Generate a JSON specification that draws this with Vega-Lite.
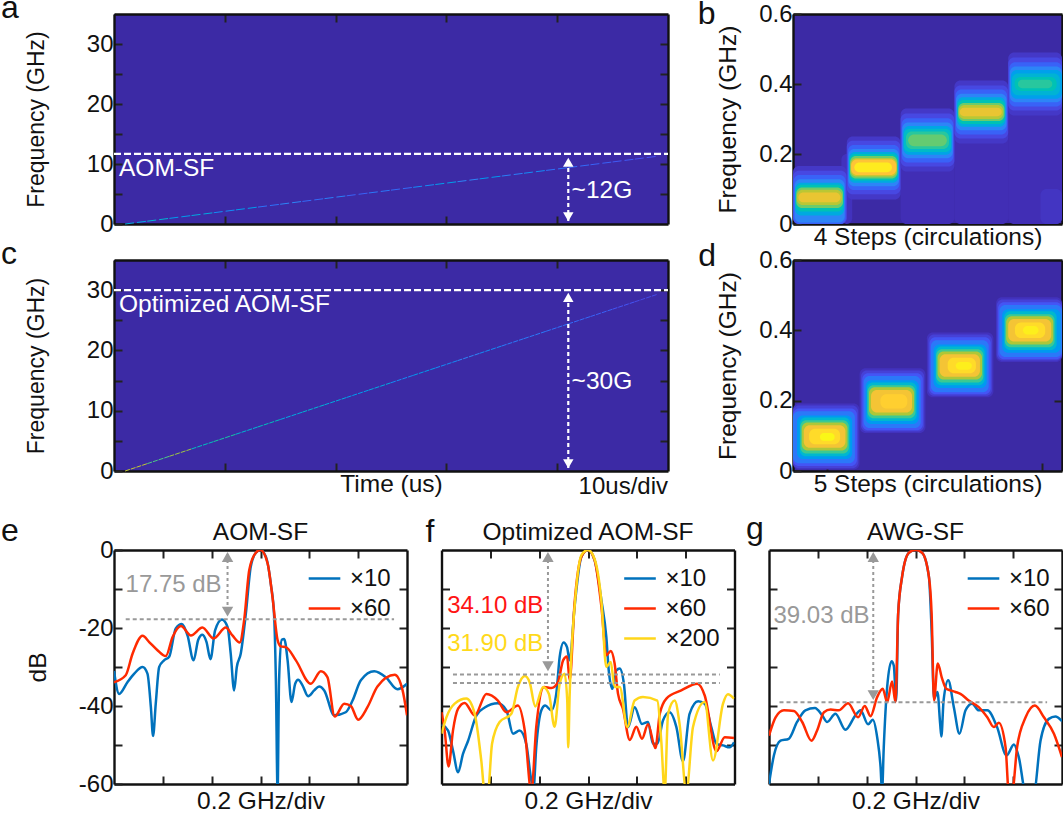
{
  "$schema": "https://vega.github.io/schema/vega-lite/v6.json",
  "padding": {"left": 0, "top": -8, "right": 0, "bottom": 0},
  "background": "white",
  "config": {
    "font": "Liberation Sans",
    "view": {"stroke": null},
    "axis": {"grid": false, "domainColor": "#111", "domainWidth": 2.4, "tickColor": "#222", "tickWidth": 2, "tickSize": -8, "labelFontSize": 24, "labelColor": "#111", "titleFontSize": 24.5, "titleFontWeight": "normal", "titleColor": "#111", "labelPadding": 9, "labelFlush": false, "labelOverlap": false, "zindex": 1}
  },
  "resolve": {"scale": {"color": "independent"}, "legend": {"color": "independent"}},
  "vconcat": [
    {"resolve": {"scale": {"color": "independent"}, "legend": {"color": "independent"}},
     "vconcat": [
      {"hconcat": [
        {"width": 554, "height": 210, "view": {"fill": "#3C2AA5", "stroke": null},
         "data": {"values": [{}]},
         "resolve": {"axis": {"x": "independent", "y": "independent"}},
         "layer": [
          {"mark": {"type": "rule", "opacity": 0}, "encoding": {
            "x": {"datum": 0, "type": "quantitative", "scale": {"domain": [0, 50]}, "axis": {"values": [10, 20, 30, 40], "labels": false, "title": null}},
            "y": {"datum": 0, "type": "quantitative", "scale": {"domain": [0, 35]}, "axis": {"values": [0, 5, 10, 15, 20, 25, 30], "labelExpr": "datum.value % 10 == 0 ? datum.label : ''", "title": "Frequency (GHz)", "titleFontSize": 23, "titlePadding": 38}}}},
          {"mark": {"type": "rule", "opacity": 0}, "encoding": {
            "x": {"datum": 0, "type": "quantitative", "axis": {"orient": "top", "values": [10, 20, 30, 40], "labels": false, "title": null}},
            "y": {"datum": 0, "type": "quantitative", "axis": {"orient": "right", "values": [5, 10, 15, 20, 25, 30], "labels": false, "title": null}}}},
          {"data": {"values": [
            {"t0":1,"t1":3,"f0":0,"f1":0.47,"v":0.4},{"t0":3,"t1":5,"f0":0.47,"f1":0.94,"v":0.45},{"t0":5,"t1":7,"f0":0.94,"f1":1.41,"v":0.35},{"t0":7,"t1":9,"f0":1.41,"f1":1.88,"v":0.4},{"t0":9,"t1":11,"f0":1.88,"f1":2.35,"v":0.3},{"t0":11,"t1":13,"f0":2.35,"f1":2.82,"v":0.35},{"t0":13,"t1":15,"f0":2.82,"f1":3.29,"v":0.22},{"t0":15,"t1":17,"f0":3.29,"f1":3.76,"v":0.28},{"t0":17,"t1":19,"f0":3.76,"f1":4.23,"v":0.2},{"t0":19,"t1":21,"f0":4.23,"f1":4.7,"v":0.26},{"t0":21,"t1":23,"f0":4.7,"f1":5.17,"v":0.18},{"t0":23,"t1":25,"f0":5.17,"f1":5.64,"v":0.24},{"t0":25,"t1":27,"f0":5.64,"f1":6.11,"v":0.2},{"t0":27,"t1":29,"f0":6.11,"f1":6.58,"v":0.3},{"t0":29,"t1":31,"f0":6.58,"f1":7.05,"v":0.36},{"t0":31,"t1":33,"f0":7.05,"f1":7.52,"v":0.28},{"t0":33,"t1":35,"f0":7.52,"f1":7.99,"v":0.34},{"t0":35,"t1":37,"f0":7.99,"f1":8.46,"v":0.26},{"t0":37,"t1":39,"f0":8.46,"f1":8.93,"v":0.3},{"t0":39,"t1":41,"f0":8.93,"f1":9.4,"v":0.22},{"t0":41,"t1":43,"f0":9.4,"f1":9.87,"v":0.2},{"t0":43,"t1":45,"f0":9.87,"f1":10.34,"v":0.18},{"t0":45,"t1":47,"f0":10.34,"f1":10.81,"v":0.16},{"t0":47,"t1":49,"f0":10.81,"f1":11.28,"v":0.14}
           ]},
           "mark": {"type": "rule", "strokeWidth": 1, "strokeDash": [9, 3]},
           "encoding": {
            "x": {"field": "t0", "type": "quantitative", "axis": null}, "x2": {"field": "t1"},
            "y": {"field": "f0", "type": "quantitative", "axis": null}, "y2": {"field": "f1"},
            "color": {"field": "v", "type": "quantitative", "legend": null, "scale": {"domain": [0, 0.143, 0.286, 0.429, 0.571, 0.714, 0.857, 1], "range": ["#3E26A8", "#4752F4", "#2E87F7", "#12B1D6", "#37C897", "#ABC739", "#FEC338", "#F9FB15"]}}}},
          {"mark": {"type": "rule", "color": "white", "strokeWidth": 2.2, "strokeDash": [7, 3]}, "encoding": {
            "x": {"datum": 0, "axis": null}, "x2": {"datum": 50}, "y": {"datum": 11.7, "axis": null}}},
          {"mark": {"type": "rule", "color": "white", "strokeWidth": 2.2, "strokeDash": [4, 3]}, "encoding": {
            "x": {"datum": 41, "axis": null}, "y": {"datum": 0.5, "axis": null}, "y2": {"datum": 11}}},
          {"mark": {"type": "point", "shape": "triangle-up", "filled": true, "color": "white", "size": 110, "opacity": 1}, "encoding": {
            "x": {"datum": 41, "axis": null}, "y": {"datum": 10.3, "axis": null}}},
          {"mark": {"type": "point", "shape": "triangle-down", "filled": true, "color": "white", "size": 110, "opacity": 1}, "encoding": {
            "x": {"datum": 41, "axis": null}, "y": {"datum": 1.2, "axis": null}}},
          {"mark": {"type": "text", "color": "white", "fontSize": 24.5, "align": "left", "baseline": "middle"}, "encoding": {
            "x": {"datum": 0.45, "axis": null}, "y": {"datum": 9.1, "axis": null}, "text": {"value": "AOM-SF"}}},
          {"mark": {"type": "text", "color": "white", "fontSize": 24.5, "align": "left", "baseline": "middle"}, "encoding": {
            "x": {"datum": 41.3, "axis": null}, "y": {"datum": 5.5, "axis": null}, "text": {"value": "~12G"}}},
          {"mark": {"type": "text", "color": "#111", "fontSize": 32, "align": "left", "baseline": "alphabetic"}, "encoding": {
            "x": {"datum": -10.2, "axis": null}, "y": {"datum": 34.3, "axis": null}, "text": {"value": "a"}}}
        ]},
        {"width": 269, "height": 210, "view": {"fill": "#3C2AA5", "stroke": null},
         "data": {"values": [{}]},
         "resolve": {"axis": {"x": "independent", "y": "independent"}},
         "layer": [
          {"mark": {"type": "rule", "opacity": 0}, "encoding": {
            "x": {"datum": 0, "type": "quantitative", "scale": {"domain": [0, 5]}, "axis": {"values": [], "ticks": false, "labels": false, "title": "4 Steps (circulations)", "titlePadding": 1}},
            "y": {"datum": 0, "type": "quantitative", "scale": {"domain": [0, 0.6]}, "axis": {"values": [0, 0.2, 0.4, 0.6], "labelExpr": "datum.value == 0 ? '0' : format(datum.value, '.1f')", "title": "Frequency (GHz)", "titlePadding": 18}}}},
          {"mark": {"type": "rule", "opacity": 0}, "encoding": {
            "x": {"datum": 0, "type": "quantitative", "axis": {"orient": "top", "values": [], "ticks": false, "labels": false, "title": null}},
            "y": {"datum": 0, "type": "quantitative", "axis": {"orient": "right", "values": [0.2, 0.4], "labels": false, "title": null}}}},
          {"data": {"values": [
            {"x0":2,"x1":3,"y0":0,"y1":0.2,"v":0.025},{"x0":3,"x1":4,"y0":0,"y1":0.26,"v":0.025},{"x0":4,"x1":5,"y0":0,"y1":0.34,"v":0.025},{"x0":0.9,"x1":1.1,"y0":0,"y1":0.2,"v":0.04},{"x0":4.6,"x1":5,"y0":0,"y1":0.1,"v":0.05},
            {"x0":0,"x1":1,"y0":0,"y1":0.166,"v":0.06},{"x0":0,"x1":1,"y0":0,"y1":0.152,"v":0.11},{"x0":0.01,"x1":0.98,"y0":0,"y1":0.14,"v":0.18},{"x0":0.03,"x1":0.96,"y0":0.004,"y1":0.128,"v":0.28},{"x0":0.04,"x1":0.95,"y0":0.024,"y1":0.118,"v":0.4},{"x0":0.05,"x1":0.94,"y0":0.036,"y1":0.112,"v":0.52},{"x0":0.06,"x1":0.93,"y0":0.046,"y1":0.104,"v":0.64},{"x0":0.07,"x1":0.91,"y0":0.054,"y1":0.098,"v":0.74},{"x0":0.1,"x1":0.88,"y0":0.062,"y1":0.09,"v":0.82},
            {"x0":1,"x1":2,"y0":0.07,"y1":0.25,"v":0.06},{"x0":1,"x1":2,"y0":0.085,"y1":0.238,"v":0.11},{"x0":1.02,"x1":1.98,"y0":0.097,"y1":0.226,"v":0.18},{"x0":1.03,"x1":1.97,"y0":0.108,"y1":0.214,"v":0.28},{"x0":1.04,"x1":1.96,"y0":0.118,"y1":0.206,"v":0.4},{"x0":1.05,"x1":1.95,"y0":0.124,"y1":0.2,"v":0.52},{"x0":1.06,"x1":1.94,"y0":0.13,"y1":0.194,"v":0.64},{"x0":1.07,"x1":1.93,"y0":0.136,"y1":0.188,"v":0.76},{"x0":1.08,"x1":1.92,"y0":0.14,"y1":0.184,"v":0.86},{"x0":1.14,"x1":1.84,"y0":0.148,"y1":0.176,"v":0.96},
            {"x0":2,"x1":3,"y0":0.15,"y1":0.33,"v":0.06},{"x0":2,"x1":3,"y0":0.164,"y1":0.316,"v":0.11},{"x0":2.02,"x1":2.98,"y0":0.176,"y1":0.302,"v":0.18},{"x0":2.03,"x1":2.97,"y0":0.188,"y1":0.29,"v":0.28},{"x0":2.05,"x1":2.95,"y0":0.198,"y1":0.28,"v":0.38},{"x0":2.06,"x1":2.94,"y0":0.206,"y1":0.272,"v":0.48},{"x0":2.1,"x1":2.9,"y0":0.214,"y1":0.264,"v":0.56},{"x0":2.14,"x1":2.86,"y0":0.222,"y1":0.256,"v":0.63},
            {"x0":3,"x1":4,"y0":0.23,"y1":0.41,"v":0.06},{"x0":3,"x1":4,"y0":0.244,"y1":0.396,"v":0.11},{"x0":3.02,"x1":3.98,"y0":0.256,"y1":0.384,"v":0.18},{"x0":3.03,"x1":3.97,"y0":0.268,"y1":0.372,"v":0.28},{"x0":3.05,"x1":3.95,"y0":0.278,"y1":0.362,"v":0.4},{"x0":3.06,"x1":3.94,"y0":0.286,"y1":0.354,"v":0.52},{"x0":3.07,"x1":3.93,"y0":0.294,"y1":0.346,"v":0.64},{"x0":3.08,"x1":3.91,"y0":0.3,"y1":0.34,"v":0.74},{"x0":3.1,"x1":3.88,"y0":0.308,"y1":0.332,"v":0.82},
            {"x0":4,"x1":5,"y0":0.31,"y1":0.49,"v":0.06},{"x0":4,"x1":5,"y0":0.324,"y1":0.476,"v":0.11},{"x0":4.02,"x1":5,"y0":0.336,"y1":0.462,"v":0.18},{"x0":4.03,"x1":5,"y0":0.348,"y1":0.45,"v":0.28},{"x0":4.05,"x1":5,"y0":0.358,"y1":0.44,"v":0.36},{"x0":4.07,"x1":4.96,"y0":0.368,"y1":0.43,"v":0.44},{"x0":4.12,"x1":4.9,"y0":0.38,"y1":0.42,"v":0.52},{"x0":4.18,"x1":4.82,"y0":0.388,"y1":0.412,"v":0.56}
           ]},
           "mark": {"type": "rect", "clip": true, "cornerRadius": 6},
           "encoding": {
            "x": {"field": "x0", "type": "quantitative", "axis": null}, "x2": {"field": "x1"},
            "y": {"field": "y0", "type": "quantitative", "axis": null}, "y2": {"field": "y1"},
            "color": {"field": "v", "type": "quantitative", "legend": null, "scale": {"domain": [0, 0.143, 0.286, 0.429, 0.571, 0.714, 0.857, 1], "range": ["#3E26A8", "#4752F4", "#2E87F7", "#12B1D6", "#37C897", "#ABC739", "#FEC338", "#F9FB15"]}}}},
          {"mark": {"type": "text", "color": "#111", "fontSize": 32, "align": "left", "baseline": "alphabetic"}, "encoding": {
            "x": {"datum": -1.77, "axis": null}, "y": {"datum": 0.571, "axis": null}, "text": {"value": "b"}}}
        ]}
      ], "spacing": 125, "bounds": "flush", "resolve": {"scale": {"color": "independent"}, "legend": {"color": "independent"}}},
      {"hconcat": [
        {"width": 554, "height": 211, "view": {"fill": "#3C2AA5", "stroke": null},
         "data": {"values": [{}]},
         "resolve": {"axis": {"x": "independent", "y": "independent"}},
         "layer": [
          {"mark": {"type": "rule", "opacity": 0}, "encoding": {
            "x": {"datum": 0, "type": "quantitative", "scale": {"domain": [0, 50]}, "axis": {"values": [10, 20, 30, 40], "labels": false, "title": "Time (us)", "titlePadding": 0}},
            "y": {"datum": 0, "type": "quantitative", "scale": {"domain": [0, 35]}, "axis": {"values": [0, 5, 10, 15, 20, 25, 30], "labelExpr": "datum.value % 10 == 0 ? datum.label : ''", "title": "Frequency (GHz)", "titleFontSize": 23, "titlePadding": 38}}}},
          {"mark": {"type": "rule", "opacity": 0}, "encoding": {
            "x": {"datum": 0, "type": "quantitative", "axis": {"orient": "top", "values": [10, 20, 30, 40], "labels": false, "title": null}},
            "y": {"datum": 0, "type": "quantitative", "axis": {"orient": "right", "values": [5, 10, 15, 20, 25, 30], "labels": false, "title": null}}}},
          {"data": {"values": [
            {"t0":1,"t1":3,"f0":0,"f1":1.22,"v":0.75},{"t0":3,"t1":5,"f0":1.22,"f1":2.44,"v":0.6},{"t0":5,"t1":7,"f0":2.44,"f1":3.66,"v":0.7},{"t0":7,"t1":9,"f0":3.66,"f1":4.88,"v":0.5},{"t0":9,"t1":11,"f0":4.88,"f1":6.1,"v":0.55},{"t0":11,"t1":13,"f0":6.1,"f1":7.32,"v":0.45},{"t0":13,"t1":15,"f0":7.32,"f1":8.54,"v":0.5},{"t0":15,"t1":17,"f0":8.54,"f1":9.76,"v":0.4},{"t0":17,"t1":19,"f0":9.76,"f1":10.98,"v":0.45},{"t0":19,"t1":21,"f0":10.98,"f1":12.2,"v":0.4},{"t0":21,"t1":23,"f0":12.2,"f1":13.42,"v":0.35},{"t0":23,"t1":25,"f0":13.42,"f1":14.64,"v":0.4},{"t0":25,"t1":27,"f0":14.64,"f1":15.86,"v":0.3},{"t0":27,"t1":29,"f0":15.86,"f1":17.08,"v":0.35},{"t0":29,"t1":31,"f0":17.08,"f1":18.3,"v":0.3},{"t0":31,"t1":33,"f0":18.3,"f1":19.52,"v":0.28},{"t0":33,"t1":35,"f0":19.52,"f1":20.74,"v":0.3},{"t0":35,"t1":37,"f0":20.74,"f1":21.96,"v":0.25},{"t0":37,"t1":39,"f0":21.96,"f1":23.18,"v":0.25},{"t0":39,"t1":41,"f0":23.18,"f1":24.4,"v":0.22},{"t0":41,"t1":43,"f0":24.4,"f1":25.62,"v":0.2},{"t0":43,"t1":45,"f0":25.62,"f1":26.84,"v":0.18},{"t0":45,"t1":47,"f0":26.84,"f1":28.06,"v":0.15},{"t0":47,"t1":49,"f0":28.06,"f1":29.28,"v":0.12}
           ]},
           "mark": {"type": "rule", "strokeWidth": 1, "strokeDash": [5, 1]},
           "encoding": {
            "x": {"field": "t0", "type": "quantitative", "axis": null}, "x2": {"field": "t1"},
            "y": {"field": "f0", "type": "quantitative", "axis": null}, "y2": {"field": "f1"},
            "color": {"field": "v", "type": "quantitative", "legend": null, "scale": {"domain": [0, 0.143, 0.286, 0.429, 0.571, 0.714, 0.857, 1], "range": ["#3E26A8", "#4752F4", "#2E87F7", "#12B1D6", "#37C897", "#ABC739", "#FEC338", "#F9FB15"]}}}},
          {"mark": {"type": "rule", "color": "white", "strokeWidth": 2.2, "strokeDash": [7, 3]}, "encoding": {
            "x": {"datum": 0, "axis": null}, "x2": {"datum": 50}, "y": {"datum": 30, "axis": null}}},
          {"mark": {"type": "rule", "color": "white", "strokeWidth": 2.2, "strokeDash": [4, 3]}, "encoding": {
            "x": {"datum": 41, "axis": null}, "y": {"datum": 0.5, "axis": null}, "y2": {"datum": 29.5}}},
          {"mark": {"type": "point", "shape": "triangle-up", "filled": true, "color": "white", "size": 110, "opacity": 1}, "encoding": {
            "x": {"datum": 41, "axis": null}, "y": {"datum": 28.8, "axis": null}}},
          {"mark": {"type": "point", "shape": "triangle-down", "filled": true, "color": "white", "size": 110, "opacity": 1}, "encoding": {
            "x": {"datum": 41, "axis": null}, "y": {"datum": 1.2, "axis": null}}},
          {"mark": {"type": "text", "color": "white", "fontSize": 24.5, "align": "left", "baseline": "middle"}, "encoding": {
            "x": {"datum": 0.45, "axis": null}, "y": {"datum": 27.5, "axis": null}, "text": {"value": "Optimized AOM-SF"}}},
          {"mark": {"type": "text", "color": "white", "fontSize": 24.5, "align": "left", "baseline": "middle"}, "encoding": {
            "x": {"datum": 41.3, "axis": null}, "y": {"datum": 14.8, "axis": null}, "text": {"value": "~30G"}}},
          {"mark": {"type": "text", "color": "#111", "fontSize": 24, "align": "right", "baseline": "middle"}, "encoding": {
            "x": {"datum": 50, "axis": null}, "y": {"datum": -2.6, "axis": null}, "text": {"value": "10us/div"}}},
          {"mark": {"type": "text", "color": "#111", "fontSize": 32, "align": "left", "baseline": "alphabetic"}, "encoding": {
            "x": {"datum": -10.2, "axis": null}, "y": {"datum": 34.3, "axis": null}, "text": {"value": "c"}}}
        ]},
        {"width": 269, "height": 211, "view": {"fill": "#3C2AA5", "stroke": null},
         "data": {"values": [{}]},
         "resolve": {"axis": {"x": "independent", "y": "independent"}},
         "layer": [
          {"mark": {"type": "rule", "opacity": 0}, "encoding": {
            "x": {"datum": 0, "type": "quantitative", "scale": {"domain": [0, 4]}, "axis": {"values": [0.5, 3.7], "labels": false, "title": "5 Steps (circulations)", "titlePadding": 0}},
            "y": {"datum": 0, "type": "quantitative", "scale": {"domain": [0, 0.6]}, "axis": {"values": [0, 0.2, 0.4, 0.6], "labelExpr": "datum.value == 0 ? '0' : format(datum.value, '.1f')", "title": "Frequency (GHz)", "titlePadding": 18}}}},
          {"mark": {"type": "rule", "opacity": 0}, "encoding": {
            "x": {"datum": 0, "type": "quantitative", "axis": {"orient": "top", "values": [], "ticks": false, "labels": false, "title": null}},
            "y": {"datum": 0, "type": "quantitative", "axis": {"orient": "right", "values": [0.2, 0.4], "labels": false, "title": null}}}},
          {"data": {"values": [
            {"x0":0,"x1":0.99,"y0":0.004,"y1":0.192,"v":0.04},{"x0":0,"x1":0.97,"y0":0.008,"y1":0.186,"v":0.09},{"x0":0,"x1":0.95,"y0":0.014,"y1":0.178,"v":0.15},{"x0":0,"x1":0.92,"y0":0.022,"y1":0.17,"v":0.24},{"x0":0.06,"x1":0.88,"y0":0.034,"y1":0.158,"v":0.34},{"x0":0.1,"x1":0.85,"y0":0.042,"y1":0.152,"v":0.46},{"x0":0.11,"x1":0.83,"y0":0.05,"y1":0.144,"v":0.58},{"x0":0.13,"x1":0.81,"y0":0.058,"y1":0.138,"v":0.72},{"x0":0.16,"x1":0.78,"y0":0.066,"y1":0.13,"v":0.84},{"x0":0.24,"x1":0.7,"y0":0.076,"y1":0.12,"v":0.92},{"x0":0.4,"x1":0.62,"y0":0.086,"y1":0.108,"v":0.99},
            {"x0":0.99,"x1":1.97,"y0":0.108,"y1":0.292,"v":0.04},{"x0":1.01,"x1":1.95,"y0":0.112,"y1":0.286,"v":0.09},{"x0":1.03,"x1":1.93,"y0":0.116,"y1":0.278,"v":0.15},{"x0":1.05,"x1":1.9,"y0":0.122,"y1":0.27,"v":0.24},{"x0":1.08,"x1":1.87,"y0":0.134,"y1":0.258,"v":0.34},{"x0":1.1,"x1":1.84,"y0":0.142,"y1":0.252,"v":0.46},{"x0":1.11,"x1":1.82,"y0":0.15,"y1":0.244,"v":0.58},{"x0":1.13,"x1":1.8,"y0":0.158,"y1":0.238,"v":0.72},{"x0":1.16,"x1":1.77,"y0":0.166,"y1":0.23,"v":0.84},{"x0":1.3,"x1":1.7,"y0":0.178,"y1":0.218,"v":0.89},
            {"x0":1.99,"x1":2.98,"y0":0.21,"y1":0.394,"v":0.04},{"x0":2.01,"x1":2.96,"y0":0.214,"y1":0.388,"v":0.09},{"x0":2.03,"x1":2.94,"y0":0.218,"y1":0.38,"v":0.15},{"x0":2.05,"x1":2.91,"y0":0.224,"y1":0.372,"v":0.24},{"x0":2.09,"x1":2.88,"y0":0.236,"y1":0.36,"v":0.34},{"x0":2.12,"x1":2.85,"y0":0.244,"y1":0.354,"v":0.46},{"x0":2.13,"x1":2.83,"y0":0.252,"y1":0.346,"v":0.58},{"x0":2.15,"x1":2.81,"y0":0.26,"y1":0.34,"v":0.72},{"x0":2.18,"x1":2.78,"y0":0.268,"y1":0.332,"v":0.84},{"x0":2.3,"x1":2.72,"y0":0.278,"y1":0.322,"v":0.92},{"x0":2.42,"x1":2.66,"y0":0.288,"y1":0.31,"v":0.97},
            {"x0":3.02,"x1":4,"y0":0.31,"y1":0.494,"v":0.04},{"x0":3.03,"x1":4,"y0":0.314,"y1":0.488,"v":0.09},{"x0":3.05,"x1":4,"y0":0.318,"y1":0.48,"v":0.15},{"x0":3.07,"x1":4,"y0":0.324,"y1":0.472,"v":0.24},{"x0":3.11,"x1":3.98,"y0":0.336,"y1":0.46,"v":0.34},{"x0":3.14,"x1":3.92,"y0":0.344,"y1":0.454,"v":0.46},{"x0":3.15,"x1":3.89,"y0":0.352,"y1":0.446,"v":0.58},{"x0":3.17,"x1":3.87,"y0":0.36,"y1":0.44,"v":0.72},{"x0":3.2,"x1":3.84,"y0":0.368,"y1":0.432,"v":0.84},{"x0":3.3,"x1":3.75,"y0":0.378,"y1":0.422,"v":0.92},{"x0":3.42,"x1":3.65,"y0":0.388,"y1":0.412,"v":0.97}
           ]},
           "mark": {"type": "rect", "clip": true, "cornerRadius": 6},
           "encoding": {
            "x": {"field": "x0", "type": "quantitative", "axis": null}, "x2": {"field": "x1"},
            "y": {"field": "y0", "type": "quantitative", "axis": null}, "y2": {"field": "y1"},
            "color": {"field": "v", "type": "quantitative", "legend": null, "scale": {"domain": [0, 0.143, 0.286, 0.429, 0.571, 0.714, 0.857, 1], "range": ["#3E26A8", "#4752F4", "#2E87F7", "#12B1D6", "#37C897", "#ABC739", "#FEC338", "#F9FB15"]}}}},
          {"mark": {"type": "text", "color": "#111", "fontSize": 32, "align": "left", "baseline": "alphabetic"}, "encoding": {
            "x": {"datum": -1.41, "axis": null}, "y": {"datum": 0.583, "axis": null}, "text": {"value": "d"}}}
        ]}
      ], "spacing": 125, "bounds": "flush", "resolve": {"scale": {"color": "independent"}, "legend": {"color": "independent"}}}
    ], "spacing": -11},
    {"hconcat": [
      {"width": 293, "height": 234,
       "data": {"values": [{}]},
       "resolve": {"axis": {"x": "independent", "y": "independent"}},
       "layer": [
        {"mark": {"type": "rule", "opacity": 0}, "encoding": {
          "x": {"datum": 0, "type": "quantitative", "scale": {"domain": [-0.6, 0.6]}, "axis": {"values": [-0.4, -0.2, 0, 0.2, 0.4], "labels": false, "title": "0.2 GHz/div", "titlePadding": 4}},
          "y": {"datum": 0, "type": "quantitative", "scale": {"domain": [-60, 0]}, "axis": {"values": [-60, -50, -40, -30, -20, -10, 0], "labelExpr": "datum.value % 20 == 0 ? '' + datum.value : ''", "title": "dB", "titlePadding": 28}}}},
        {"mark": {"type": "rule", "opacity": 0}, "encoding": {
          "x": {"datum": 0, "type": "quantitative", "axis": {"orient": "top", "values": [-0.4, -0.2, 0, 0.2, 0.4], "labels": false, "title": null}},
          "y": {"datum": 0, "type": "quantitative", "axis": {"orient": "right", "values": [-50, -40, -30, -20, -10], "labels": false, "title": null}}}},
        {"data": {"values": [
          {"x":-0.6,"y":-31,"s":"×10"},{"x":-0.579,"y":-36.9,"s":"×10"},{"x":-0.545,"y":-33.9,"s":"×10"},{"x":-0.517,"y":-31.7,"s":"×10"},{"x":-0.483,"y":-30,"s":"×10"},{"x":-0.463,"y":-31.7,"s":"×10"},{"x":-0.449,"y":-40.3,"s":"×10"},{"x":-0.44,"y":-47.7,"s":"×10"},{"x":-0.429,"y":-39.4,"s":"×10"},{"x":-0.415,"y":-30,"s":"×10"},{"x":-0.395,"y":-28.3,"s":"×10"},{"x":-0.374,"y":-27.4,"s":"×10"},{"x":-0.347,"y":-20.1,"s":"×10"},{"x":-0.322,"y":-19,"s":"×10"},{"x":-0.299,"y":-21.9,"s":"×10"},{"x":-0.274,"y":-28.3,"s":"×10"},{"x":-0.255,"y":-23,"s":"×10"},{"x":-0.238,"y":-21.7,"s":"×10"},{"x":-0.221,"y":-23.6,"s":"×10"},{"x":-0.205,"y":-28,"s":"×10"},{"x":-0.186,"y":-20.6,"s":"×10"},{"x":-0.158,"y":-17.8,"s":"×10"},{"x":-0.135,"y":-19.7,"s":"×10"},{"x":-0.122,"y":-26.6,"s":"×10"},{"x":-0.108,"y":-36,"s":"×10"},{"x":-0.097,"y":-30,"s":"×10"},{"x":-0.081,"y":-26.6,"s":"×10"},{"x":-0.06,"y":-16.3,"s":"×10"},{"x":-0.04,"y":-4.3,"s":"×10"},{"x":-0.019,"y":-0.7,"s":"×10"},{"x":0,"y":0,"s":"×10"},{"x":0.022,"y":-1.7,"s":"×10"},{"x":0.042,"y":-8.6,"s":"×10"},{"x":0.056,"y":-17.1,"s":"×10"},{"x":0.063,"y":-33.4,"s":"×10"},{"x":0.07,"y":-62,"s":"×10"},{"x":0.076,"y":-33.4,"s":"×10"},{"x":0.087,"y":-23,"s":"×10"},{"x":0.097,"y":-22.8,"s":"×10"},{"x":0.111,"y":-28.3,"s":"×10"},{"x":0.127,"y":-39,"s":"×10"},{"x":0.142,"y":-34.3,"s":"×10"},{"x":0.154,"y":-33.3,"s":"×10"},{"x":0.172,"y":-34.7,"s":"×10"},{"x":0.195,"y":-37.5,"s":"×10"},{"x":0.22,"y":-36,"s":"×10"},{"x":0.24,"y":-35,"s":"×10"},{"x":0.261,"y":-36,"s":"×10"},{"x":0.302,"y":-42.4,"s":"×10"},{"x":0.349,"y":-41.6,"s":"×10"},{"x":0.377,"y":-38.6,"s":"×10"},{"x":0.411,"y":-33.4,"s":"×10"},{"x":0.466,"y":-31.1,"s":"×10"},{"x":0.513,"y":-32.6,"s":"×10"},{"x":0.561,"y":-35.7,"s":"×10"},{"x":0.6,"y":-34.3,"s":"×10"},
          {"x":-0.6,"y":-33.9,"s":"×60"},{"x":-0.552,"y":-32.1,"s":"×60"},{"x":-0.524,"y":-26.6,"s":"×60"},{"x":-0.483,"y":-22,"s":"×60"},{"x":-0.456,"y":-23.6,"s":"×60"},{"x":-0.422,"y":-25.7,"s":"×60"},{"x":-0.388,"y":-27.2,"s":"×60"},{"x":-0.36,"y":-22.3,"s":"×60"},{"x":-0.326,"y":-19.5,"s":"×60"},{"x":-0.285,"y":-21.9,"s":"×60"},{"x":-0.238,"y":-19.9,"s":"×60"},{"x":-0.192,"y":-22.7,"s":"×60"},{"x":-0.142,"y":-19.9,"s":"×60"},{"x":-0.115,"y":-21.9,"s":"×60"},{"x":-0.085,"y":-23.7,"s":"×60"},{"x":-0.067,"y":-18,"s":"×60"},{"x":-0.046,"y":-5.1,"s":"×60"},{"x":-0.019,"y":-0.7,"s":"×60"},{"x":0,"y":0,"s":"×60"},{"x":0.029,"y":-3.4,"s":"×60"},{"x":0.049,"y":-12,"s":"×60"},{"x":0.07,"y":-23.1,"s":"×60"},{"x":0.083,"y":-24.7,"s":"×60"},{"x":0.104,"y":-24.9,"s":"×60"},{"x":0.145,"y":-28.3,"s":"×60"},{"x":0.206,"y":-34.3,"s":"×60"},{"x":0.247,"y":-31.1,"s":"×60"},{"x":0.274,"y":-32.6,"s":"×60"},{"x":0.304,"y":-42.7,"s":"×60"},{"x":0.343,"y":-39.4,"s":"×60"},{"x":0.37,"y":-40,"s":"×60"},{"x":0.4,"y":-43.5,"s":"×60"},{"x":0.438,"y":-40.3,"s":"×60"},{"x":0.479,"y":-35,"s":"×60"},{"x":0.55,"y":-32,"s":"×60"},{"x":0.582,"y":-36,"s":"×60"},{"x":0.6,"y":-42.4,"s":"×60"}
         ]},
         "mark": {"type": "line", "interpolate": "monotone", "clip": true, "strokeWidth": 2.5},
         "encoding": {
          "x": {"field": "x", "type": "quantitative", "axis": null},
          "y": {"field": "y", "type": "quantitative", "axis": null},
          "color": {"field": "s", "type": "nominal", "scale": {"domain": ["×10", "×60"], "range": ["#0072BD", "#FF2A00"]}, "legend": {"orient": "none", "legendX": 193, "legendY": 11, "title": null, "symbolType": "stroke", "symbolSize": 1000, "symbolStrokeWidth": 2.5, "labelFontSize": 24, "labelColor": "#111", "labelOffset": 8, "rowPadding": -5}}}},
        {"mark": {"type": "rule", "color": "#999", "strokeWidth": 2, "strokeDash": [4, 3]}, "encoding": {
          "x": {"datum": -0.552, "axis": null}, "x2": {"datum": 0.547}, "y": {"datum": -17.75, "axis": null}}},
        {"mark": {"type": "rule", "color": "#999", "strokeWidth": 2, "strokeDash": [3, 3]}, "encoding": {
          "x": {"datum": -0.135, "axis": null}, "y": {"datum": -1, "axis": null}, "y2": {"datum": -16}}},
        {"mark": {"type": "point", "shape": "triangle-up", "filled": true, "color": "#999", "size": 130, "opacity": 1}, "encoding": {
          "x": {"datum": -0.135, "axis": null}, "y": {"datum": -1.8, "axis": null}}},
        {"mark": {"type": "point", "shape": "triangle-down", "filled": true, "color": "#999", "size": 130, "opacity": 1}, "encoding": {
          "x": {"datum": -0.135, "axis": null}, "y": {"datum": -15.8, "axis": null}}},
        {"mark": {"type": "text", "color": "#999", "fontSize": 24}, "encoding": {
          "x": {"datum": -0.356, "axis": null}, "y": {"datum": -9, "axis": null}, "text": {"value": "17.75 dB"}}},
        {"mark": {"type": "text", "color": "#111", "fontSize": 24.5}, "encoding": {
          "x": {"datum": 0, "axis": null}, "y": {"datum": 4.3, "axis": null}, "text": {"value": "AOM-SF"}}},
        {"mark": {"type": "text", "color": "#111", "fontSize": 32, "align": "left", "baseline": "alphabetic"}, "encoding": {
          "x": {"datum": -1.063, "axis": null}, "y": {"datum": 2.3, "axis": null}, "text": {"value": "e"}}}
      ]},
      {"width": 293, "height": 234,
       "data": {"values": [{}]},
       "resolve": {"axis": {"x": "independent", "y": "independent"}},
       "layer": [
        {"mark": {"type": "rule", "opacity": 0}, "encoding": {
          "x": {"datum": 0, "type": "quantitative", "scale": {"domain": [-0.6, 0.6]}, "axis": {"values": [-0.4, -0.2, 0, 0.2, 0.4], "labels": false, "title": "0.2 GHz/div", "titlePadding": 4}},
          "y": {"datum": 0, "type": "quantitative", "scale": {"domain": [-60, 0]}, "axis": {"values": [-50, -40, -30, -20, -10], "labels": false, "title": null}}}},
        {"mark": {"type": "rule", "opacity": 0}, "encoding": {
          "x": {"datum": 0, "type": "quantitative", "axis": {"orient": "top", "values": [-0.4, -0.2, 0, 0.2, 0.4], "labels": false, "title": null}},
          "y": {"datum": 0, "type": "quantitative", "axis": {"orient": "right", "values": [-50, -40, -30, -20, -10], "labels": false, "title": null}}}},
        {"data": {"values": [
          {"x":-0.6,"y":-44.7,"s":"×10"},{"x":-0.573,"y":-46.3,"s":"×10"},{"x":-0.553,"y":-51.4,"s":"×10"},{"x":-0.532,"y":-57,"s":"×10"},{"x":-0.512,"y":-52.3,"s":"×10"},{"x":-0.491,"y":-48.9,"s":"×10"},{"x":-0.457,"y":-42.4,"s":"×10"},{"x":-0.423,"y":-40.4,"s":"×10"},{"x":-0.369,"y":-39.3,"s":"×10"},{"x":-0.334,"y":-41.1,"s":"×10"},{"x":-0.307,"y":-47.1,"s":"×10"},{"x":-0.28,"y":-46.3,"s":"×10"},{"x":-0.253,"y":-49.7,"s":"×10"},{"x":-0.232,"y":-59.1,"s":"×10"},{"x":-0.223,"y":-61,"s":"×10"},{"x":-0.212,"y":-50.6,"s":"×10"},{"x":-0.191,"y":-41.1,"s":"×10"},{"x":-0.175,"y":-39.9,"s":"×10"},{"x":-0.15,"y":-41.1,"s":"×10"},{"x":-0.13,"y":-36.9,"s":"×10"},{"x":-0.116,"y":-27.4,"s":"×10"},{"x":-0.1,"y":-23.7,"s":"×10"},{"x":-0.086,"y":-24.9,"s":"×10"},{"x":-0.075,"y":-28.3,"s":"×10"},{"x":-0.055,"y":-14.6,"s":"×10"},{"x":-0.027,"y":-1.7,"s":"×10"},{"x":0,"y":0,"s":"×10"},{"x":0.027,"y":-2.6,"s":"×10"},{"x":0.055,"y":-12.9,"s":"×10"},{"x":0.075,"y":-22.3,"s":"×10"},{"x":0.085,"y":-30.9,"s":"×10"},{"x":0.1,"y":-35.6,"s":"×10"},{"x":0.116,"y":-30.9,"s":"×10"},{"x":0.13,"y":-30.4,"s":"×10"},{"x":0.147,"y":-34.3,"s":"×10"},{"x":0.164,"y":-45.4,"s":"×10"},{"x":0.191,"y":-40.3,"s":"×10"},{"x":0.221,"y":-44.6,"s":"×10"},{"x":0.246,"y":-44.1,"s":"×10"},{"x":0.266,"y":-49.7,"s":"×10"},{"x":0.284,"y":-49.7,"s":"×10"},{"x":0.307,"y":-43.7,"s":"×10"},{"x":0.334,"y":-41.6,"s":"×10"},{"x":0.362,"y":-45.4,"s":"×10"},{"x":0.389,"y":-54.2,"s":"×10"},{"x":0.416,"y":-42,"s":"×10"},{"x":0.451,"y":-38.8,"s":"×10"},{"x":0.478,"y":-39.4,"s":"×10"},{"x":0.505,"y":-45.4,"s":"×10"},{"x":0.526,"y":-49.7,"s":"×10"},{"x":0.553,"y":-50.1,"s":"×10"},{"x":0.58,"y":-50.6,"s":"×10"},{"x":0.598,"y":-49.3,"s":"×10"},
          {"x":-0.6,"y":-41.6,"s":"×60"},{"x":-0.587,"y":-46.3,"s":"×60"},{"x":-0.571,"y":-55.5,"s":"×60"},{"x":-0.553,"y":-46.3,"s":"×60"},{"x":-0.532,"y":-40.7,"s":"×60"},{"x":-0.505,"y":-39.2,"s":"×60"},{"x":-0.464,"y":-42.4,"s":"×60"},{"x":-0.416,"y":-36.9,"s":"×60"},{"x":-0.369,"y":-38.6,"s":"×60"},{"x":-0.334,"y":-41.6,"s":"×60"},{"x":-0.287,"y":-39.9,"s":"×60"},{"x":-0.259,"y":-46.3,"s":"×60"},{"x":-0.232,"y":-62,"s":"×60"},{"x":-0.212,"y":-45.4,"s":"×60"},{"x":-0.18,"y":-35.1,"s":"×60"},{"x":-0.15,"y":-35.4,"s":"×60"},{"x":-0.123,"y":-33.9,"s":"×60"},{"x":-0.102,"y":-28.3,"s":"×60"},{"x":-0.086,"y":-27.3,"s":"×60"},{"x":-0.075,"y":-33.4,"s":"×60"},{"x":-0.055,"y":-13.7,"s":"×60"},{"x":-0.027,"y":-1.7,"s":"×60"},{"x":0,"y":0,"s":"×60"},{"x":0.027,"y":-2.6,"s":"×60"},{"x":0.055,"y":-14.6,"s":"×60"},{"x":0.075,"y":-27,"s":"×60"},{"x":0.093,"y":-25.9,"s":"×60"},{"x":0.109,"y":-29.1,"s":"×60"},{"x":0.123,"y":-36.9,"s":"×60"},{"x":0.143,"y":-40.7,"s":"×60"},{"x":0.171,"y":-48.7,"s":"×60"},{"x":0.198,"y":-45.3,"s":"×60"},{"x":0.221,"y":-48.4,"s":"×60"},{"x":0.246,"y":-44.7,"s":"×60"},{"x":0.276,"y":-50.8,"s":"×60"},{"x":0.294,"y":-42,"s":"×60"},{"x":0.321,"y":-38.1,"s":"×60"},{"x":0.382,"y":-36,"s":"×60"},{"x":0.448,"y":-34.3,"s":"×60"},{"x":0.478,"y":-37.3,"s":"×60"},{"x":0.526,"y":-51.6,"s":"×60"},{"x":0.56,"y":-48,"s":"×60"},{"x":0.598,"y":-48.2,"s":"×60"},
          {"x":-0.6,"y":-47.1,"s":"×200"},{"x":-0.58,"y":-42.9,"s":"×200"},{"x":-0.546,"y":-39.4,"s":"×200"},{"x":-0.498,"y":-38.1,"s":"×200"},{"x":-0.464,"y":-42,"s":"×200"},{"x":-0.437,"y":-54,"s":"×200"},{"x":-0.423,"y":-62,"s":"×200"},{"x":-0.41,"y":-62,"s":"×200"},{"x":-0.393,"y":-49.7,"s":"×200"},{"x":-0.362,"y":-44.1,"s":"×200"},{"x":-0.314,"y":-42,"s":"×200"},{"x":-0.287,"y":-35.1,"s":"×200"},{"x":-0.259,"y":-32.3,"s":"×200"},{"x":-0.239,"y":-33.9,"s":"×200"},{"x":-0.216,"y":-40.1,"s":"×200"},{"x":-0.184,"y":-35.1,"s":"×200"},{"x":-0.16,"y":-36.9,"s":"×200"},{"x":-0.137,"y":-45.3,"s":"×200"},{"x":-0.116,"y":-34.3,"s":"×200"},{"x":-0.096,"y":-31.7,"s":"×200"},{"x":-0.085,"y":-38.6,"s":"×200"},{"x":-0.081,"y":-50.6,"s":"×200"},{"x":-0.075,"y":-36.9,"s":"×200"},{"x":-0.068,"y":-26.6,"s":"×200"},{"x":-0.055,"y":-14.6,"s":"×200"},{"x":-0.027,"y":-1.3,"s":"×200"},{"x":0,"y":0,"s":"×200"},{"x":0.027,"y":-2.3,"s":"×200"},{"x":0.055,"y":-13.3,"s":"×200"},{"x":0.075,"y":-30,"s":"×200"},{"x":0.093,"y":-28.7,"s":"×200"},{"x":0.109,"y":-35.1,"s":"×200"},{"x":0.13,"y":-35.1,"s":"×200"},{"x":0.161,"y":-45.4,"s":"×200"},{"x":0.191,"y":-38.6,"s":"×200"},{"x":0.225,"y":-37.7,"s":"×200"},{"x":0.284,"y":-38.6,"s":"×200"},{"x":0.3,"y":-48.9,"s":"×200"},{"x":0.314,"y":-62,"s":"×200"},{"x":0.328,"y":-42,"s":"×200"},{"x":0.355,"y":-38.6,"s":"×200"},{"x":0.375,"y":-44.6,"s":"×200"},{"x":0.403,"y":-62,"s":"×200"},{"x":0.43,"y":-45.4,"s":"×200"},{"x":0.478,"y":-39,"s":"×200"},{"x":0.512,"y":-54,"s":"×200"},{"x":0.553,"y":-39.4,"s":"×200"},{"x":0.573,"y":-37,"s":"×200"},{"x":0.598,"y":-38.1,"s":"×200"}
         ]},
         "mark": {"type": "line", "interpolate": "monotone", "clip": true, "strokeWidth": 2.5},
         "encoding": {
          "x": {"field": "x", "type": "quantitative", "axis": null},
          "y": {"field": "y", "type": "quantitative", "axis": null},
          "color": {"field": "s", "type": "nominal", "scale": {"domain": ["×10", "×60", "×200"], "range": ["#0072BD", "#FF2A00", "#FFD61A"]}, "legend": {"orient": "none", "legendX": 181, "legendY": 11, "title": null, "symbolType": "stroke", "symbolSize": 1000, "symbolStrokeWidth": 2.5, "labelFontSize": 24, "labelColor": "#111", "labelOffset": 8, "rowPadding": -3.5}}}},
        {"mark": {"type": "rule", "color": "#999", "strokeWidth": 2, "strokeDash": [4, 3]}, "encoding": {
          "x": {"datum": -0.553, "axis": null}, "x2": {"datum": 0.54}, "y": {"datum": -31.9, "axis": null}}},
        {"mark": {"type": "rule", "color": "#999", "strokeWidth": 2, "strokeDash": [4, 3]}, "encoding": {
          "x": {"datum": -0.553, "axis": null}, "x2": {"datum": 0.54}, "y": {"datum": -34.1, "axis": null}}},
        {"mark": {"type": "rule", "color": "#999", "strokeWidth": 2, "strokeDash": [3, 3]}, "encoding": {
          "x": {"datum": -0.164, "axis": null}, "y": {"datum": -1, "axis": null}, "y2": {"datum": -30}}},
        {"mark": {"type": "point", "shape": "triangle-up", "filled": true, "color": "#999", "size": 130, "opacity": 1}, "encoding": {
          "x": {"datum": -0.164, "axis": null}, "y": {"datum": -1.8, "axis": null}}},
        {"mark": {"type": "point", "shape": "triangle-down", "filled": true, "color": "#999", "size": 130, "opacity": 1}, "encoding": {
          "x": {"datum": -0.164, "axis": null}, "y": {"datum": -29.8, "axis": null}}},
        {"mark": {"type": "text", "color": "#FF1414", "fontSize": 24}, "encoding": {
          "x": {"datum": -0.38, "axis": null}, "y": {"datum": -14.4, "axis": null}, "text": {"value": "34.10 dB"}}},
        {"mark": {"type": "text", "color": "#FFD91A", "fontSize": 24}, "encoding": {
          "x": {"datum": -0.38, "axis": null}, "y": {"datum": -24, "axis": null}, "text": {"value": "31.90 dB"}}},
        {"mark": {"type": "text", "color": "#111", "fontSize": 24.5}, "encoding": {
          "x": {"datum": 0, "axis": null}, "y": {"datum": 4.3, "axis": null}, "text": {"value": "Optimized AOM-SF"}}},
        {"mark": {"type": "text", "color": "#111", "fontSize": 32, "align": "left", "baseline": "alphabetic"}, "encoding": {
          "x": {"datum": -0.666, "axis": null}, "y": {"datum": 2, "axis": null}, "text": {"value": "f"}}}
      ]},
      {"width": 293, "height": 234,
       "data": {"values": [{}]},
       "resolve": {"axis": {"x": "independent", "y": "independent"}},
       "layer": [
        {"mark": {"type": "rule", "opacity": 0}, "encoding": {
          "x": {"datum": 0, "type": "quantitative", "scale": {"domain": [-0.6, 0.6]}, "axis": {"values": [-0.4, -0.2, 0, 0.2, 0.4], "labels": false, "title": "0.2 GHz/div", "titlePadding": 4}},
          "y": {"datum": 0, "type": "quantitative", "scale": {"domain": [-60, 0]}, "axis": {"values": [-50, -40, -30, -20, -10], "labels": false, "title": null}}}},
        {"mark": {"type": "rule", "opacity": 0}, "encoding": {
          "x": {"datum": 0, "type": "quantitative", "axis": {"orient": "top", "values": [-0.4, -0.2, 0, 0.2, 0.4], "labels": false, "title": null}},
          "y": {"datum": 0, "type": "quantitative", "axis": {"orient": "right", "values": [-50, -40, -30, -20, -10], "labels": false, "title": null}}}},
        {"data": {"values": [
          {"x":-0.6,"y":-60,"s":"×10"},{"x":-0.58,"y":-52.7,"s":"×10"},{"x":-0.553,"y":-48.9,"s":"×10"},{"x":-0.519,"y":-48.4,"s":"×10"},{"x":-0.485,"y":-44.1,"s":"×10"},{"x":-0.451,"y":-41.1,"s":"×10"},{"x":-0.412,"y":-40.5,"s":"×10"},{"x":-0.382,"y":-42.4,"s":"×10"},{"x":-0.362,"y":-44.1,"s":"×10"},{"x":-0.328,"y":-42,"s":"×10"},{"x":-0.287,"y":-46.1,"s":"×10"},{"x":-0.246,"y":-42.4,"s":"×10"},{"x":-0.225,"y":-41.1,"s":"×10"},{"x":-0.194,"y":-44.7,"s":"×10"},{"x":-0.175,"y":-43.5,"s":"×10"},{"x":-0.157,"y":-48,"s":"×10"},{"x":-0.143,"y":-55.7,"s":"×10"},{"x":-0.137,"y":-62,"s":"×10"},{"x":-0.13,"y":-50.6,"s":"×10"},{"x":-0.116,"y":-35.1,"s":"×10"},{"x":-0.098,"y":-28.5,"s":"×10"},{"x":-0.089,"y":-29.6,"s":"×10"},{"x":-0.079,"y":-38.6,"s":"×10"},{"x":-0.071,"y":-16.3,"s":"×10"},{"x":-0.055,"y":-6.9,"s":"×10"},{"x":-0.027,"y":-0.7,"s":"×10"},{"x":0,"y":0,"s":"×10"},{"x":0.027,"y":-0.7,"s":"×10"},{"x":0.055,"y":-6.9,"s":"×10"},{"x":0.066,"y":-20.6,"s":"×10"},{"x":0.076,"y":-38.1,"s":"×10"},{"x":0.09,"y":-36.4,"s":"×10"},{"x":0.101,"y":-44.6,"s":"×10"},{"x":0.106,"y":-47.8,"s":"×10"},{"x":0.115,"y":-38.6,"s":"×10"},{"x":0.134,"y":-33.4,"s":"×10"},{"x":0.157,"y":-40.3,"s":"×10"},{"x":0.18,"y":-47.1,"s":"×10"},{"x":0.205,"y":-41.1,"s":"×10"},{"x":0.232,"y":-39.4,"s":"×10"},{"x":0.259,"y":-41.1,"s":"×10"},{"x":0.294,"y":-41.1,"s":"×10"},{"x":0.334,"y":-45.4,"s":"×10"},{"x":0.373,"y":-52.7,"s":"×10"},{"x":0.403,"y":-49.9,"s":"×10"},{"x":0.423,"y":-53.1,"s":"×10"},{"x":0.451,"y":-62,"s":"×10"},{"x":0.485,"y":-62,"s":"×10"},{"x":0.512,"y":-48.9,"s":"×10"},{"x":0.546,"y":-43.3,"s":"×10"},{"x":0.573,"y":-42.7,"s":"×10"},{"x":0.6,"y":-43.9,"s":"×10"},
          {"x":-0.6,"y":-47.6,"s":"×60"},{"x":-0.573,"y":-42.9,"s":"×60"},{"x":-0.539,"y":-41.1,"s":"×60"},{"x":-0.498,"y":-41.3,"s":"×60"},{"x":-0.464,"y":-44.1,"s":"×60"},{"x":-0.426,"y":-48.9,"s":"×60"},{"x":-0.403,"y":-46.3,"s":"×60"},{"x":-0.375,"y":-41.6,"s":"×60"},{"x":-0.348,"y":-40.9,"s":"×60"},{"x":-0.314,"y":-41.1,"s":"×60"},{"x":-0.276,"y":-39.3,"s":"×60"},{"x":-0.235,"y":-42.9,"s":"×60"},{"x":-0.208,"y":-40,"s":"×60"},{"x":-0.184,"y":-42.6,"s":"×60"},{"x":-0.157,"y":-37.7,"s":"×60"},{"x":-0.134,"y":-35.6,"s":"×60"},{"x":-0.116,"y":-39,"s":"×60"},{"x":-0.096,"y":-33.7,"s":"×60"},{"x":-0.082,"y":-39,"s":"×60"},{"x":-0.071,"y":-16.3,"s":"×60"},{"x":-0.055,"y":-6.9,"s":"×60"},{"x":-0.027,"y":-0.7,"s":"×60"},{"x":0,"y":0,"s":"×60"},{"x":0.027,"y":-0.7,"s":"×60"},{"x":0.055,"y":-6.9,"s":"×60"},{"x":0.066,"y":-16.3,"s":"×60"},{"x":0.076,"y":-38.6,"s":"×60"},{"x":0.091,"y":-29.1,"s":"×60"},{"x":0.109,"y":-33,"s":"×60"},{"x":0.126,"y":-35.6,"s":"×60"},{"x":0.143,"y":-36,"s":"×60"},{"x":0.164,"y":-36.4,"s":"×60"},{"x":0.184,"y":-36.9,"s":"×60"},{"x":0.218,"y":-38.6,"s":"×60"},{"x":0.259,"y":-40.3,"s":"×60"},{"x":0.294,"y":-42.9,"s":"×60"},{"x":0.321,"y":-45.4,"s":"×60"},{"x":0.341,"y":-44.3,"s":"×60"},{"x":0.369,"y":-50.6,"s":"×60"},{"x":0.382,"y":-62,"s":"×60"},{"x":0.396,"y":-62,"s":"×60"},{"x":0.416,"y":-50.6,"s":"×60"},{"x":0.451,"y":-42.9,"s":"×60"},{"x":0.489,"y":-39.9,"s":"×60"},{"x":0.526,"y":-42.9,"s":"×60"},{"x":0.567,"y":-47.1,"s":"×60"},{"x":0.6,"y":-53.1,"s":"×60"}
         ]},
         "mark": {"type": "line", "interpolate": "monotone", "clip": true, "strokeWidth": 2.5},
         "encoding": {
          "x": {"field": "x", "type": "quantitative", "axis": null},
          "y": {"field": "y", "type": "quantitative", "axis": null},
          "color": {"field": "s", "type": "nominal", "scale": {"domain": ["×10", "×60"], "range": ["#0072BD", "#FF2A00"]}, "legend": {"orient": "none", "legendX": 197, "legendY": 11, "title": null, "symbolType": "stroke", "symbolSize": 1000, "symbolStrokeWidth": 2.5, "labelFontSize": 24, "labelColor": "#111", "labelOffset": 8, "rowPadding": -5}}}},
        {"mark": {"type": "rule", "color": "#999", "strokeWidth": 2, "strokeDash": [4, 3]}, "encoding": {
          "x": {"datum": -0.557, "axis": null}, "x2": {"datum": 0.539}, "y": {"datum": -39.03, "axis": null}}},
        {"mark": {"type": "rule", "color": "#999", "strokeWidth": 2, "strokeDash": [3, 3]}, "encoding": {
          "x": {"datum": -0.173, "axis": null}, "y": {"datum": -1, "axis": null}, "y2": {"datum": -37}}},
        {"mark": {"type": "point", "shape": "triangle-up", "filled": true, "color": "#999", "size": 130, "opacity": 1}, "encoding": {
          "x": {"datum": -0.173, "axis": null}, "y": {"datum": -1.8, "axis": null}}},
        {"mark": {"type": "point", "shape": "triangle-down", "filled": true, "color": "#999", "size": 130, "opacity": 1}, "encoding": {
          "x": {"datum": -0.173, "axis": null}, "y": {"datum": -37.2, "axis": null}}},
        {"mark": {"type": "text", "color": "#999", "fontSize": 24}, "encoding": {
          "x": {"datum": -0.385, "axis": null}, "y": {"datum": -17, "axis": null}, "text": {"value": "39.03 dB"}}},
        {"mark": {"type": "text", "color": "#111", "fontSize": 24.5}, "encoding": {
          "x": {"datum": 0, "axis": null}, "y": {"datum": 4.3, "axis": null}, "text": {"value": "AWG-SF"}}},
        {"mark": {"type": "text", "color": "#111", "fontSize": 32, "align": "left", "baseline": "alphabetic"}, "encoding": {
          "x": {"datum": -0.694, "axis": null}, "y": {"datum": 2.8, "axis": null}, "text": {"value": "g"}}}
      ]}
    ], "spacing": 34.5, "bounds": "flush", "resolve": {"scale": {"color": "independent"}, "legend": {"color": "independent"}}}
  ],
  "spacing": 14
}
